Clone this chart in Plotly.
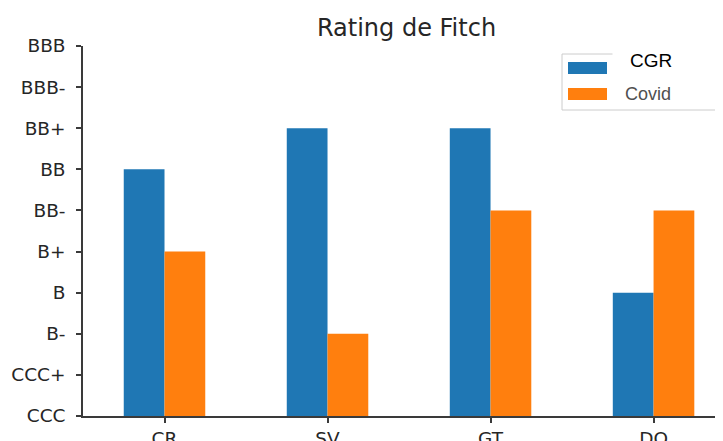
import plotly.graph_objects as go

categories = ["CR", "SV", "GT", "DO"]
rating_labels = ["CCC", "CCC+", "B-", "B", "B+", "BB-", "BB", "BB+", "BBB-", "BBB"]
series_names = ["CGR", "Covid"]
cgr = ["BB", "BB+", "BB+", "B"]
covid = ["B+", "B-", "BB-", "BB-"]

cgr_vals = [rating_labels.index(r) for r in cgr]
covid_vals = [rating_labels.index(r) for r in covid]
x_idx = list(range(len(categories)))

blue, orange = "#1f77b4", "#ff7f0e"

fig = go.Figure()
fig.add_trace(go.Bar(x=x_idx, y=cgr_vals, name=series_names[0], marker_color=blue,
                     marker_line_width=0, showlegend=False))
fig.add_trace(go.Bar(x=x_idx, y=covid_vals, name=series_names[1], marker_color=orange,
                     marker_line_width=0, showlegend=False))

# page body has an 8px margin; figure sized to end at the window edge
OFF = 8
W, H = 723 - OFF, 441 - OFF
ML, MR, MT, MB = 83 - OFF, 0, 46 - OFF, 25
PX0, PY0 = 83, 46          # plot area top-left on screen
PW, PH = W - ML - MR, H - MT - MB


def px(x):
    return (x - PX0) / PW


def py(y):
    return 1 - (y - PY0) / PH


# legend drawn as decoration (box, patches, labels)
shapes = [
    dict(type="rect", xref="paper", yref="paper", x0=px(562), x1=px(735), y0=py(110), y1=py(54),
         line=dict(color="#cccccc", width=1), fillcolor="white", layer="above"),
    dict(type="rect", xref="paper", yref="paper", x0=px(568), x1=px(607), y0=py(74), y1=py(62),
         line=dict(width=0), fillcolor=blue, layer="above"),
    dict(type="rect", xref="paper", yref="paper", x0=px(568), x1=px(607), y0=py(100), y1=py(88),
         line=dict(width=0), fillcolor=orange, layer="above"),
]
annotations = [
    dict(xref="paper", yref="paper", x=px(612), y=py(38), xanchor="left", yanchor="top",
         text="<span style='color:white'>" + "&nbsp;" * 26 + "</span>", showarrow=False,
         bgcolor="white", font=dict(size=19), borderpad=0),
    dict(xref="paper", yref="paper", x=px(651), y=py(60), xanchor="center", yanchor="middle",
         text=series_names[0], showarrow=False,
         font=dict(family="Liberation Sans", size=19, color="black")),
    dict(xref="paper", yref="paper", x=px(623), y=py(94), xanchor="left", yanchor="middle",
         text=series_names[1], showarrow=False,
         font=dict(family="Liberation Sans", size=18, color="#505050")),
]

axis_color = "#3a3a3a"
fig.update_layout(
    width=W, height=H,
    margin=dict(l=ML, r=MR, t=MT, b=MB, autoexpand=False),
    paper_bgcolor="white", plot_bgcolor="white",
    barmode="group", bargap=0.5, bargroupgap=0,
    font=dict(family="DejaVu Sans", size=18.5, color="#262626"),
    title=dict(text="Rating de Fitch", xref="paper", x=0.5055, xanchor="center",
               yref="container", y=0.955, yanchor="middle",
               font=dict(family="DejaVu Sans", size=24, color="#262626")),
    showlegend=False,
    shapes=shapes,
    annotations=annotations,
    xaxis=dict(range=[-0.5, 3.426], tickvals=x_idx, ticktext=categories, automargin=False,
               showline=True, linecolor=axis_color, linewidth=1.5,
               ticks="outside", ticklen=5, tickcolor=axis_color, tickwidth=1.5,
               ticklabelstandoff=0,
               showgrid=False, zeroline=False, mirror=False, fixedrange=True),
    yaxis=dict(range=[0, 9], tickvals=list(range(len(rating_labels))), ticktext=rating_labels,
               automargin=False,
               showline=True, linecolor=axis_color, linewidth=1.5,
               ticks="outside", ticklen=5, tickcolor=axis_color, tickwidth=1.5,
               ticklabelstandoff=7,
               showgrid=False, zeroline=False, fixedrange=True),
)

fig.write_html("out.html")
